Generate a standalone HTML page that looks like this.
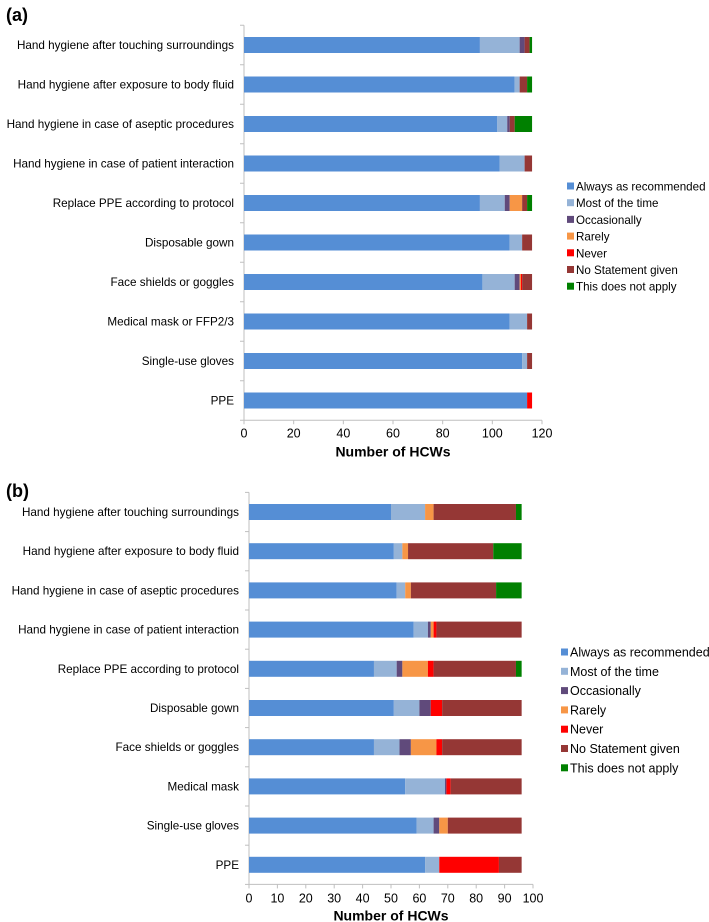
<!DOCTYPE html>
<html><head><meta charset="utf-8">
<style>
body{margin:0;background:#fff;}
svg{display:block;font-family:"Liberation Sans",Arial,sans-serif;}
</style></head>
<body>
<svg id="fig" width="709" height="922" viewBox="0 0 709 922"></svg>
<script>
const seriesNames = ["Always as recommended","Most of the time","Occasionally","Rarely","Never","No Statement given","This does not apply"];
const seriesColors = ["#558ed5","#95b3d7","#604a7b","#f79646","#ff0000","#953735","#008000"];

const catsA = ["Hand hygiene after touching surroundings","Hand hygiene after exposure to body fluid","Hand hygiene in case of aseptic procedures","Hand hygiene in case of patient interaction","Replace PPE according to protocol","Disposable gown","Face shields or goggles","Medical mask or FFP2/3","Single-use gloves","PPE"];
const alwaysA   = [95,109,102,103,95,107,96,107,112,114];
const mostA     = [16,2,4,10,10,5,13,7,2,0];
const occA      = [2,0,1,0,2,0,2,0,0,0];
const rarelyA   = [0,0,0,0,5,0,0.5,0,0,0];
const neverA    = [0,0,0,0,0,0,0.5,0,0,2];
const noStatA   = [2,3,2,3,2,4,4,2,2,0];
const naA       = [1,2,7,0,2,0,0,0,0,0];
const ticksA = [0,20,40,60,80,100,120];

const catsB = ["Hand hygiene after touching surroundings","Hand hygiene after exposure to body fluid","Hand hygiene in case of aseptic procedures","Hand hygiene in case of patient interaction","Replace PPE according to protocol","Disposable gown","Face shields or goggles","Medical mask","Single-use gloves","PPE"];
const alwaysB   = [50,51,52,58,44,51,44,55,59,62];
const mostB     = [12,3,3,5,8,9,9,14,6,5];
const occB      = [0,0,0,1,2,4,4,0.5,2,0];
const rarelyB   = [3,2,2,1,9,0,9,0,3,0];
const neverB    = [0,0,0,1,2,4,2,1.5,0,21];
const noStatB   = [29,30,30,30,29,28,28,25,26,8];
const naB       = [2,10,9,0,2,0,0,0,0,0];
const ticksB = [0,10,20,30,40,50,60,70,80,90,100];

const NS="http://www.w3.org/2000/svg";
const svg=document.getElementById('fig');
function mk(tag,attrs,parent){const e=document.createElementNS(NS,tag);for(const k in attrs)e.setAttribute(k,attrs[k]);(parent||svg).appendChild(e);return e;}

function drawChart(cfg){
  const g=mk('g',{});
  
  
  const x=v=>cfg.x0+(v-cfg.min)/(cfg.max-cfg.min)*(cfg.x1-cfg.x0);
  const y=i=>cfg.yFirst+i*cfg.step;
  const series=cfg.series;
  const pl=mk('text',{x:cfg.labelX,y:cfg.labelY,'font-size':18,'font-weight':'bold',fill:'#000'},g);
  pl.textContent=cfg.panel;
  
  
  const top=y(0)-cfg.step/2, bot=y(cfg.cats.length-1)+cfg.step/2;
  const ya=mk('line',{x1:cfg.x0,x2:cfg.x0,y1:top,y2:bot,stroke:'#bfbfbf','stroke-width':1},g);
  
  
  for(let i=0;i<=cfg.cats.length;i++){
    mk('line',{x1:cfg.x0-4,x2:cfg.x0,y1:top+i*cfg.step,y2:top+i*cfg.step,stroke:'#bfbfbf'},g);
  }
  const xa=mk('line',{x1:cfg.x0,x2:x(cfg.ticks[cfg.ticks.length-1]),y1:bot,y2:bot,stroke:'#bfbfbf','stroke-width':1},g);
  
  
  cfg.ticks.forEach(t=>{
    mk('line',{x1:x(t),x2:x(t),y1:bot,y2:bot+4,stroke:'#bfbfbf'},g);
    const tl=mk('text',{x:x(t),y:bot+cfg.tickDy,'font-size':12.5,'text-anchor':'middle',fill:'#000'},g);
    tl.textContent=t;
    
    
  });
  const xt=mk('text',{x:(cfg.x0+x(cfg.ticks[cfg.ticks.length-1]))/2,y:bot+cfg.titleDy,'font-size':14,'font-weight':'bold','text-anchor':'middle',fill:'#000'},g);
  xt.textContent='Number of HCWs';
  
  
  cfg.cats.forEach((c,i)=>{
    const cl=mk('text',{x:cfg.catX,y:y(i)+4,'font-size':11.7,'text-anchor':'end',fill:'#000'},g);
    cl.textContent=c;
    
    
    let acc=0;
    series.forEach((s,k)=>{
      const v=s[i];
      if(v>0){
        const r=mk('rect',{x:x(acc),y:y(i)-8,width:x(acc+v)-x(acc),height:16,fill:seriesColors[k]},g);
        
        
      }
      acc+=v;
    });
  });
  seriesNames.forEach((n,k)=>{
    const ly=cfg.legY+k*cfg.legStep;
    const sq=mk('rect',{x:cfg.legX,y:ly-3.5,width:7,height:7,fill:seriesColors[k]},g);
    
    
    const t=mk('text',{x:cfg.legX+9,y:ly+4.5,'font-size':cfg.legFont,fill:'#000'},g);
    t.textContent=n;
    
    
  });
}

drawChart({name:'chart-a',panel:'(a)',labelX:6,labelY:21,cats:catsA,
  series:[alwaysA,mostA,occA,rarelyA,neverA,noStatA,naA],
  ticks:ticksA,min:0,max:120,x0:244,x1:542,yFirst:45,step:39.5,catX:234,
  tickDy:17,titleDy:36,legX:567,legY:186,legStep:16.7,legFont:11.6});

drawChart({name:'chart-b',panel:'(b)',labelX:6,labelY:497,cats:catsB,
  series:[alwaysB,mostB,occB,rarelyB,neverB,noStatB,naB],
  ticks:ticksB,min:0,max:100,x0:249,x1:533,yFirst:512,step:39.2,catX:239,
  tickDy:18,titleDy:36,legX:561,legY:652,legStep:19.3,legFont:12.5});
</script>
</body></html>
